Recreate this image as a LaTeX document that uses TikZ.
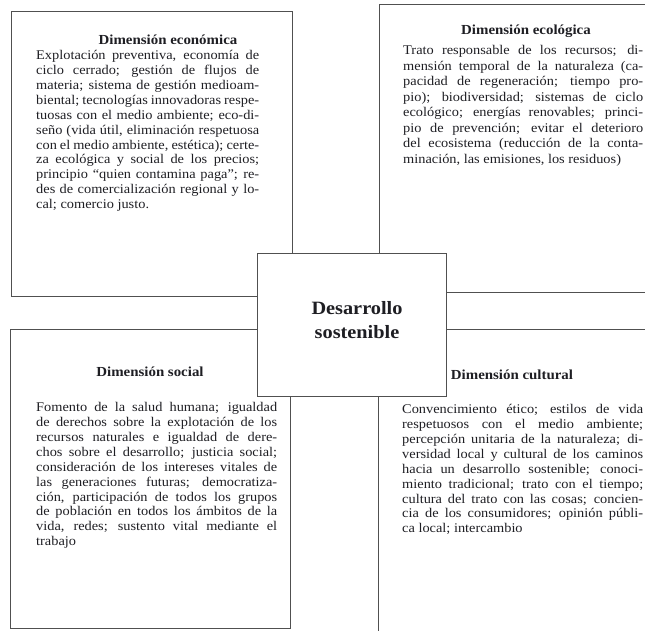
\documentclass[tikz,border=0pt]{standalone}
\usepackage{fontspec}
\setmainfont{Liberation Serif}[FakeStretch=1.08]
\usetikzlibrary{positioning}
\definecolor{BoxLine}{RGB}{80,80,80}
\definecolor{InkText}{RGB}{30,30,35}
% one justified line, and the closing ragged line
\newdimen\jlwidth
\newcommand{\jl}[1]{\par\noindent\hbox to\jlwidth{\strut#1}}
\newcommand{\lastjl}[1]{\par\noindent\strut#1}
\newcommand{\loosewords}{\spaceskip=\fontdimen2\font plus 3\fontdimen2\font minus .45\fontdimen2\font
  \xspaceskip=\spaceskip}

\begin{document}
\begin{tikzpicture}[
        x=1pt, y=-1pt,
        dimbox/.style={rectangle, anchor=north west, inner sep=0pt, draw=BoxLine, line width=1.2pt},
        corebox/.style={dimbox, fill=white},
        heading/.style={anchor=base, inner sep=0pt, text=InkText, font=\bfseries\fontsize{13.8}{15}\selectfont},
        body/.style={anchor=north west, inner sep=0pt, text=InkText, text width=#1,
          execute at begin node={\jlwidth=#1\relax\loosewords},
          font=\fontsize{13.3}{14.9}\selectfont},
        coretext/.style={align=center, inner sep=0pt, text=InkText, font=\bfseries\fontsize{18.8}{24}\selectfont}
    ]
        \useasboundingbox (0,0) rectangle (645,630);
        \clip (0,0) rectangle (645,630);

        % the four dimensions
        \node (econ) [dimbox, minimum width=281pt, minimum height=285pt] at (11,11) {};
        \node (ecol) [dimbox, minimum width=290pt, minimum height=288pt] at (379,4) {};
        \node (social) [dimbox, minimum width=280pt, minimum height=299pt] at (10,329) {};
        \node (cult) [dimbox, minimum width=290pt, minimum height=320pt] at (378,329) {};
        % the core on top
        \node (core) [corebox, minimum width=189pt, minimum height=143pt] at (257,253) {};

        \node (econhead) [heading] at (168,44) {Dimensión económica};
        \node (econtext) [body=223pt] at (36,44.5) {%
            \jl{Explotación preventiva, economía de}%
            \jl{ciclo cerrado; gestión de flujos de}%
            \jl{materia; sistema de gestión medioam-}%
            \jl{biental; tecnologías innovadoras respe-}%
            \jl{tuosas con el medio ambiente; eco-di-}%
            \jl{seño (vida útil, eliminación respetuosa}%
            \jl{con el medio ambiente, estética); certe-}%
            \jl{za ecológica y social de los precios;}%
            \jl{principio “quien contamina paga”; re-}%
            \jl{des de comercialización regional y lo-}%
            \lastjl{cal; comercio justo.}};

        \node (ecolhead) [heading] at (526,34) {Dimensión ecológica};
        \node (ecoltext) [body=240pt, font=\fontsize{13.3}{15.5}\selectfont] at (403,39) {%
            \jl{Trato responsable de los recursos; di-}%
            \jl{mensión temporal de la naturaleza (ca-}%
            \jl{pacidad de regeneración; tiempo pro-}%
            \jl{pio); biodiversidad; sistemas de ciclo}%
            \jl{ecológico; energías renovables; princi-}%
            \jl{pio de prevención; evitar el deterioro}%
            \jl{del ecosistema (reducción de la conta-}%
            \lastjl{minación, las emisiones, los residuos)}};

        \node (socialhead) [heading] at (150,376) {Dimensión social};
        \node (socialtext) [body=241pt] at (36,396.5) {%
            \jl{Fomento de la salud humana; igualdad}%
            \jl{de derechos sobre la explotación de los}%
            \jl{recursos naturales e igualdad de dere-}%
            \jl{chos sobre el desarrollo; justicia social;}%
            \jl{consideración de los intereses vitales de}%
            \jl{las generaciones futuras; democratiza-}%
            \jl{ción, participación de todos los grupos}%
            \jl{de población en todos los ámbitos de la}%
            \jl{vida, redes; sustento vital mediante el}%
            \lastjl{trabajo}};

        \node (culthead) [heading] at (512,379) {Dimensión cultural};
        \node (culttext) [body=241pt] at (402,398.5) {%
            \jl{Convencimiento ético; estilos de vida}%
            \jl{respetuosos con el medio ambiente;}%
            \jl{percepción unitaria de la naturaleza; di-}%
            \jl{versidad local y cultural de los caminos}%
            \jl{hacia un desarrollo sostenible; conoci-}%
            \jl{miento tradicional; trato con el tiempo;}%
            \jl{cultura del trato con las cosas; concien-}%
            \jl{cia de los consumidores; opinión públi-}%
            \lastjl{ca local; intercambio}};

        \node (coretitle) [coretext] at (357,320) {Desarrollo\\sostenible};
    \end{tikzpicture}
\end{document}
